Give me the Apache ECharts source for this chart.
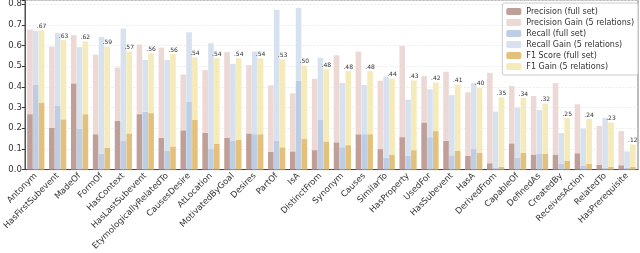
<!DOCTYPE html>
<html><head><meta charset="utf-8">
<script src="https://cdn.jsdelivr.net/npm/echarts@6/dist/echarts.min.js"></script>
<style>html,body{margin:0;padding:0;background:#fff}#c{width:640px;height:253px}</style>
</head><body><div id="c"></div>
<script>
const categories = ['Antonym','HasFirstSubevent','MadeOf','FormOf','HasContext','HasLastSubevent','EtymologicallyRelatedTo','CausesDesire','AtLocation','MotivatedByGoal','Desires','PartOf','IsA','DistinctFrom','Synonym','Causes','SimilarTo','HasProperty','UsedFor','HasSubevent','HasA','DerivedFrom','CapableOf','DefinedAs','CreatedBy','ReceivesAction','RelatedTo','HasPrerequisite'];
const precisionFull  = [0.268,0.201,0.417,0.171,0.235,0.268,0.153,0.190,0.178,0.154,0.175,0.085,0.088,0.094,0.132,0.171,0.099,0.157,0.228,0.139,0.067,0.031,0.127,0.073,0.073,0.079,0.024,0.021];
const precisionTotal = [0.677,0.595,0.650,0.556,0.494,0.605,0.590,0.460,0.481,0.568,0.505,0.408,0.369,0.439,0.553,0.571,0.430,0.598,0.452,0.473,0.374,0.467,0.404,0.356,0.418,0.316,0.211,0.186];
const recallFull     = [0.409,0.309,0.198,0.076,0.138,0.280,0.090,0.329,0.099,0.138,0.171,0.138,0.430,0.240,0.108,0.171,0.058,0.067,0.157,0.069,0.099,0.009,0.058,0.078,0.028,0.018,0.010,0.009];
const recallTotal    = [0.670,0.661,0.592,0.641,0.682,0.530,0.530,0.664,0.611,0.511,0.571,0.773,0.782,0.541,0.419,0.409,0.449,0.338,0.388,0.360,0.419,0.280,0.300,0.288,0.177,0.199,0.249,0.088];
const f1Full         = [0.324,0.243,0.268,0.106,0.175,0.273,0.112,0.240,0.126,0.144,0.171,0.108,0.148,0.136,0.118,0.171,0.073,0.094,0.186,0.090,0.081,0.013,0.081,0.076,0.042,0.028,0.013,0.013];
const f1Total        = [0.674,0.626,0.620,0.595,0.571,0.563,0.559,0.542,0.538,0.538,0.538,0.533,0.503,0.485,0.476,0.476,0.440,0.431,0.421,0.410,0.396,0.349,0.346,0.319,0.249,0.244,0.228,0.121];
const f1Labels = ['.67','.63','.62','.59','.57','.56','.56','.54','.54','.54','.54','.53','.50','.48','.48','.48','.44','.43','.42','.41','.40','.35','.34','.32','.25','.24','.23','.12'];
const yTicks = [0,0.1,0.2,0.3,0.4,0.5,0.6,0.7,0.8];

const gain = (tot, full) => tot.map((v,i)=>+(v-full[i]).toFixed(3));
const font = 'DejaVu Sans';
const chart = echarts.init(document.getElementById('c'), null, {renderer:'canvas'});
function bar(name, data, stack, color, extra){
  return Object.assign({name, type:'bar', stack, data, barWidth:5.6, barGap:'4%', barCategoryGap:'25%',
    itemStyle:{color}, emphasis:{disabled:true}}, extra||{});
}
chart.setOption({
  animation:false,
  textStyle:{fontFamily:font},
  grid:{left:15, right:2, top:0, bottom:70, show:true, borderColor:'#555', borderWidth:0.8},
  legend:{orient:'vertical', right:2, top:3, itemWidth:15, itemHeight:7, itemGap:2,
    textStyle:{fontSize:8, lineHeight:9, color:'#333', fontFamily:font}, borderColor:'#ccc', borderWidth:1, borderRadius:2,
    padding:[4,4,4,4], backgroundColor:'rgba(255,255,255,0.85)',
    data:['Precision (full set)','Precision Gain (5 relations)','Recall (full set)','Recall Gain (5 relations)','F1 Score (full set)','F1 Gain (5 relations)']},
  xAxis:{type:'category', data:categories,
    axisLine:{lineStyle:{color:'#333', width:0.8}},
    axisTick:{alignWithLabel:true, length:3, lineStyle:{color:'#333'}},
    axisLabel:{rotate:45, interval:0, fontSize:8.5, color:'#333', margin:5, fontFamily:font}},
  yAxis:{type:'value', min:0, max:0.82, interval:0.1,
    axisLine:{show:true, lineStyle:{color:'#333', width:0.8}},
    axisTick:{show:true, length:3, lineStyle:{color:'#333'}},
    axisLabel:{fontSize:8.5, color:'#333', margin:3, fontFamily:font,
      formatter:v=> yTicks.some(t=>Math.abs(t-v)<1e-6) ? v.toFixed(1) : ''},
    splitLine:{show:true, lineStyle:{color:'#e6e6e6', type:'dashed', width:0.6}}},
  series:[
    bar('Precision (full set)', precisionFull, 'p', '#bf9f98'),
    bar('Precision Gain (5 relations)', gain(precisionTotal, precisionFull), 'p', '#ecd9d6'),
    bar('Recall (full set)', recallFull, 'r', '#bccde4'),
    bar('Recall Gain (5 relations)', gain(recallTotal, recallFull), 'r', '#d8e1ee'),
    bar('F1 Score (full set)', f1Full, 'f', '#e3c17c'),
    bar('F1 Gain (5 relations)', gain(f1Total, f1Full), 'f', '#f5eab9',
      {label:{show:true, position:'top', distance:1, fontSize:6, color:'#333', fontFamily:font,
        formatter:p=>f1Labels[p.dataIndex]}})
  ]
});
</script></body></html>
